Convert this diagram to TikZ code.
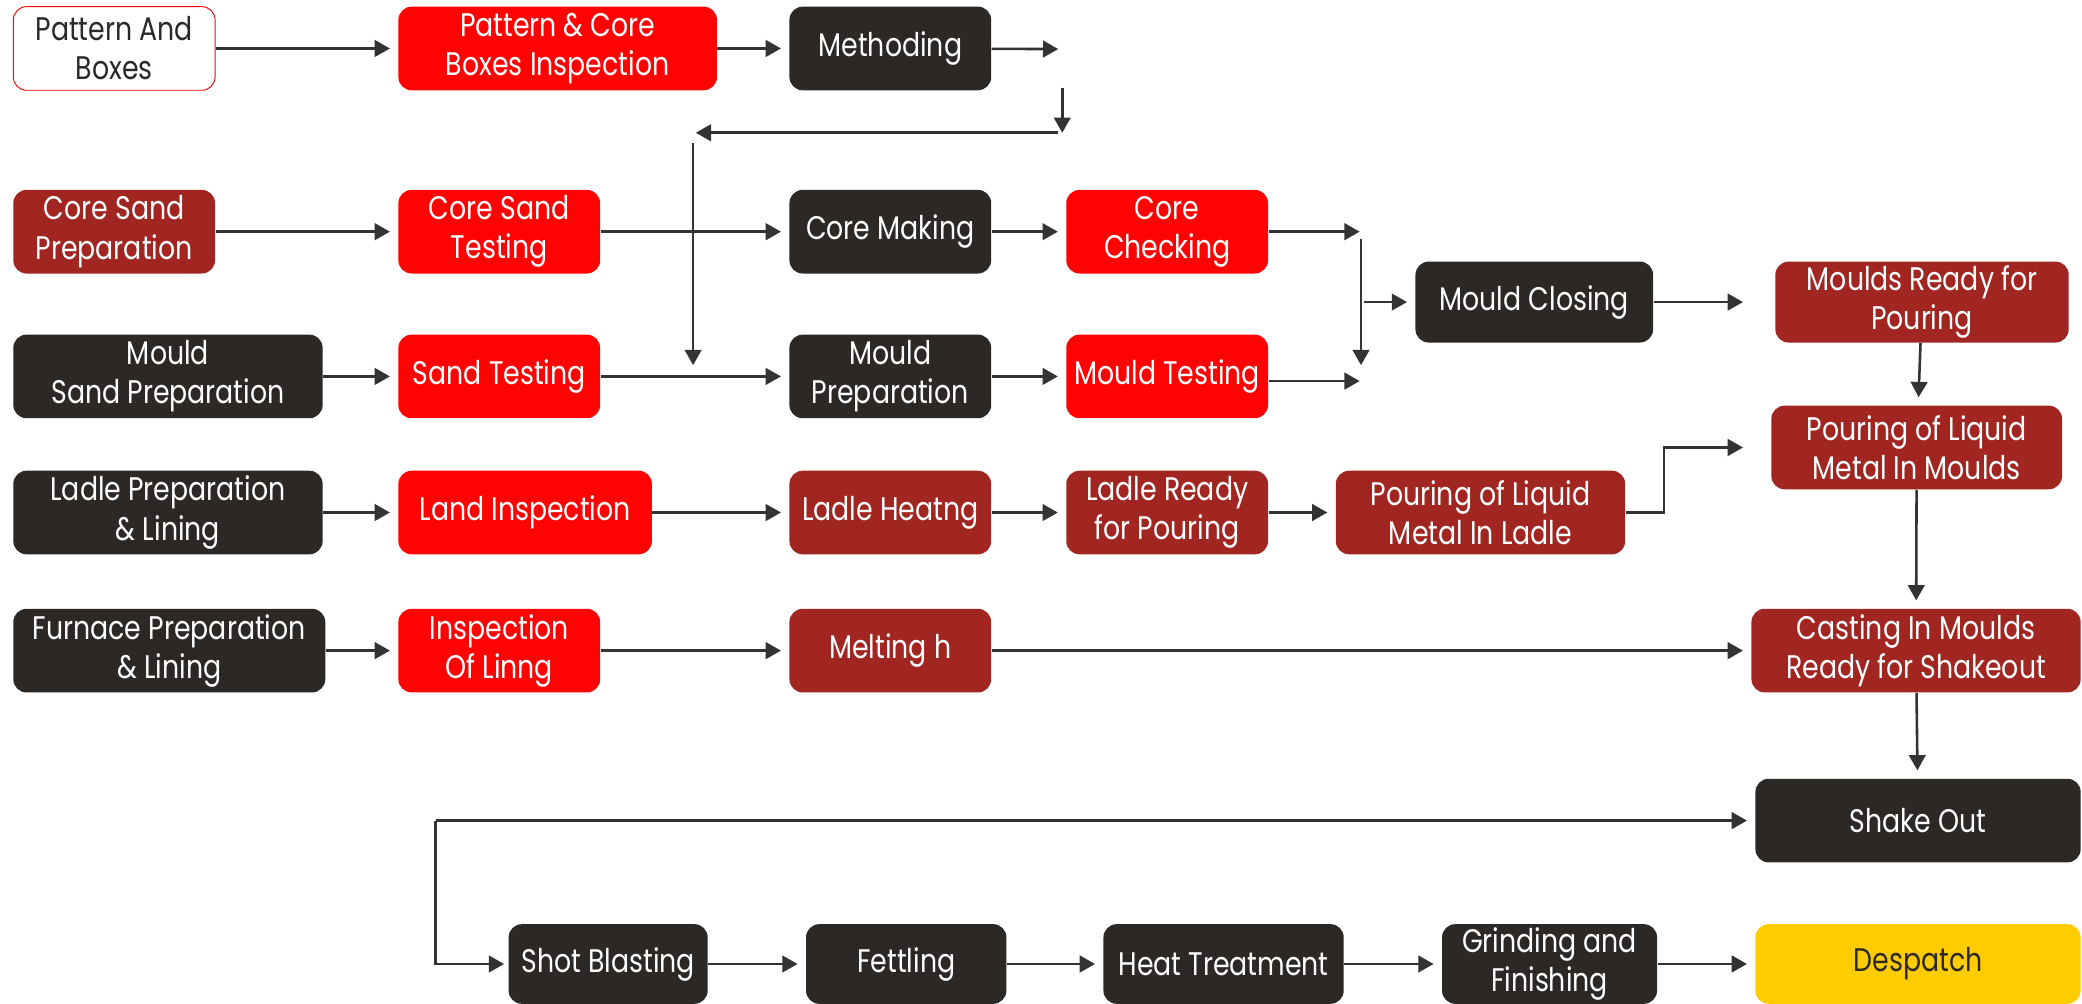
\documentclass[tikz,border=0pt]{standalone}
\usepackage{fontspec}
\setmainfont[FakeStretch=0.82]{Poppins}
\usetikzlibrary{arrows.meta}

\definecolor{boxred}{HTML}{FF0303}
\definecolor{boxbrown}{HTML}{A12520}
\definecolor{boxdark}{HTML}{2B2826}
\definecolor{boxyellow}{HTML}{FFCC00}
\definecolor{linegrey}{HTML}{333333}

\begin{document}
\begin{tikzpicture}[x=0.02cm, y=-0.02cm,
    box/.style = {rounded corners=0.2cm, minimum width=3.04cm, minimum height=1.26cm,
                  align=center, inner sep=1pt, font=\fontsize{14}{16.8}\selectfont},
    redbox/.style = {box, fill=boxred, text=white},
    brownbox/.style = {box, fill=boxbrown, text=white},
    darkbox/.style = {box, fill=boxdark, text=white},
    plainbox/.style = {box, fill=white, draw=boxred, thin, text=boxdark},
    yellowbox/.style = {box, fill=boxyellow, text=boxdark},
    arr/.style = {line width=1.1pt, draw=linegrey, -{Triangle[length=2.3mm,width=2.5mm]}, shorten >=0.12cm}]
\useasboundingbox (0,0) rectangle (1568,756);

% row 1
\node[plainbox] (pattern) at (86,36.5) {Pattern And\\Boxes};
\node[redbox, minimum width=4.8cm] (boxinsp) at (420,36.5) {Pattern \& Core\\Boxes Inspection};
\node[darkbox] (method) at (670.5,36.5) {Methoding};

% row 2
\node[brownbox] (coresand) at (86,174.5) {Core Sand\\Preparation};
\node[redbox] (coretest) at (376,174.5) {Core Sand\\Testing};
\node[darkbox] (coremake) at (670.5,174.5) {Core Making};
\node[redbox] (corecheck) at (879,174.5) {Core\\Checking};

% row 3
\node[darkbox, minimum width=4.66cm] (mouldsand) at (126.5,283.5) {Mould\\Sand Preparation};
\node[redbox] (sandtest) at (376,283.5) {Sand Testing};
\node[darkbox] (mouldprep) at (670.5,283.5) {Mould\\Preparation};
\node[redbox] (mouldtest) at (879,283.5) {Mould Testing};

\node[darkbox, minimum width=3.58cm, minimum height=1.22cm] (closing) at (1155.5,227.5) {Mould Closing};
\node[brownbox, minimum width=4.42cm, minimum height=1.22cm] (ready) at (1447.5,227.5) {Moulds Ready for\\Pouring};
\node[brownbox, minimum width=4.38cm] (pourmould) at (1443.5,337) {Pouring of Liquid\\Metal In Moulds};

% row 4
\node[darkbox, minimum width=4.66cm] (ladleprep) at (126.5,386) {Ladle Preparation\\\& Lining};
\node[redbox, minimum width=3.82cm] (landinsp) at (395.5,386) {Land Inspection};
\node[brownbox] (heating) at (670.5,386) {Ladle Heatng};
\node[brownbox] (ladleready) at (879,386) {Ladle Ready\\for Pouring};
\node[brownbox, minimum width=4.36cm] (pourladle) at (1115,386) {Pouring of Liquid\\Metal In Ladle};

% row 5
\node[darkbox, minimum width=4.7cm] (furnace) at (127.5,490) {Furnace Preparation\\\& Lining};
\node[redbox] (lining) at (376,490) {Inspection\\Of Linng};
\node[brownbox] (melting) at (670.5,490) {Melting h};
\node[brownbox, minimum width=4.96cm] (casting) at (1443,490) {Casting In Moulds\\Ready for Shakeout};

\node[darkbox, minimum width=4.9cm] (shake) at (1444.5,618) {Shake Out};

% row 6
\node[darkbox, minimum width=3cm, minimum height=1.2cm] (shot) at (458,726) {Shot Blasting};
\node[darkbox, minimum width=3.02cm, minimum height=1.2cm] (fettling) at (682.5,726) {Fettling};
\node[darkbox, minimum width=3.62cm, minimum height=1.2cm] (heattreat) at (921.5,726) {Heat Treatment};
\node[darkbox, minimum width=3.24cm, minimum height=1.2cm] (grinding) at (1167,726) {Grinding and\\Finishing};
\node[yellowbox, minimum width=4.9cm, minimum height=1.2cm] (despatch) at (1444.5,726) {Despatch};

% loose ends
\coordinate (m1) at (803,37);
\coordinate (m2) at (800,66);
\coordinate (m3) at (800,106);
\coordinate (h1) at (797,100);
\coordinate (h2) at (518,100);
\coordinate (v1) at (522,108);
\coordinate (v2) at (522,281);
\coordinate (c1) at (1030,174.5);
\coordinate (c2) at (1030,287);
\coordinate (j1) at (1025,180);
\coordinate (j2) at (1025,281);
\coordinate (j3) at (1027,227.5);
\coordinate (s0) at (328,618);

\draw[arr] (pattern) -- (boxinsp);
\draw[arr] (boxinsp) -- (method);
\draw[arr] (method) -- (m1);
\draw[arr] (m2) -- (m3);
\draw[arr] (h1) -- (h2);
\draw[arr] (v1) -- (v2);

\draw[arr] (coresand) -- (coretest);
\draw[arr] (coretest) -- (coremake);
\draw[arr] (coremake) -- (corecheck);
\draw[arr] (corecheck.east) -- (c1);

\draw[arr] (mouldsand) -- (sandtest);
\draw[arr] (sandtest) -- (mouldprep);
\draw[arr] (mouldprep) -- (mouldtest);
\draw[arr] (mouldtest.east |- c2) -- (c2);

\draw[arr] (j1) -- (j2);
\draw[arr] (j3) -- (closing);
\draw[arr, shorten >=0.48cm] (closing) -- (ready);
\draw[arr] (ready) -- (pourmould);
\draw[arr] (pourmould) -- (casting);
\draw[arr] (casting) -- (shake);

\draw[arr] (ladleprep) -- (landinsp);
\draw[arr] (landinsp) -- (heating);
\draw[arr] (heating) -- (ladleready);
\draw[arr] (ladleready) -- (pourladle);
\draw[arr, shorten >=0.42cm] (pourladle.east) -- ++(29,0) |- (pourmould.west);

\draw[arr] (furnace) -- (lining);
\draw[arr] (lining) -- (melting);
\draw[arr] (melting) -- (casting);

\draw[arr] (s0) -- (shake);
\draw[arr, shorten >=0.06cm] (s0) |- (shot);
\draw[arr] (shot) -- (fettling);
\draw[arr] (fettling) -- (heattreat);
\draw[arr] (heattreat) -- (grinding);
\draw[arr] (grinding) -- (despatch);
\end{tikzpicture}
\end{document}
